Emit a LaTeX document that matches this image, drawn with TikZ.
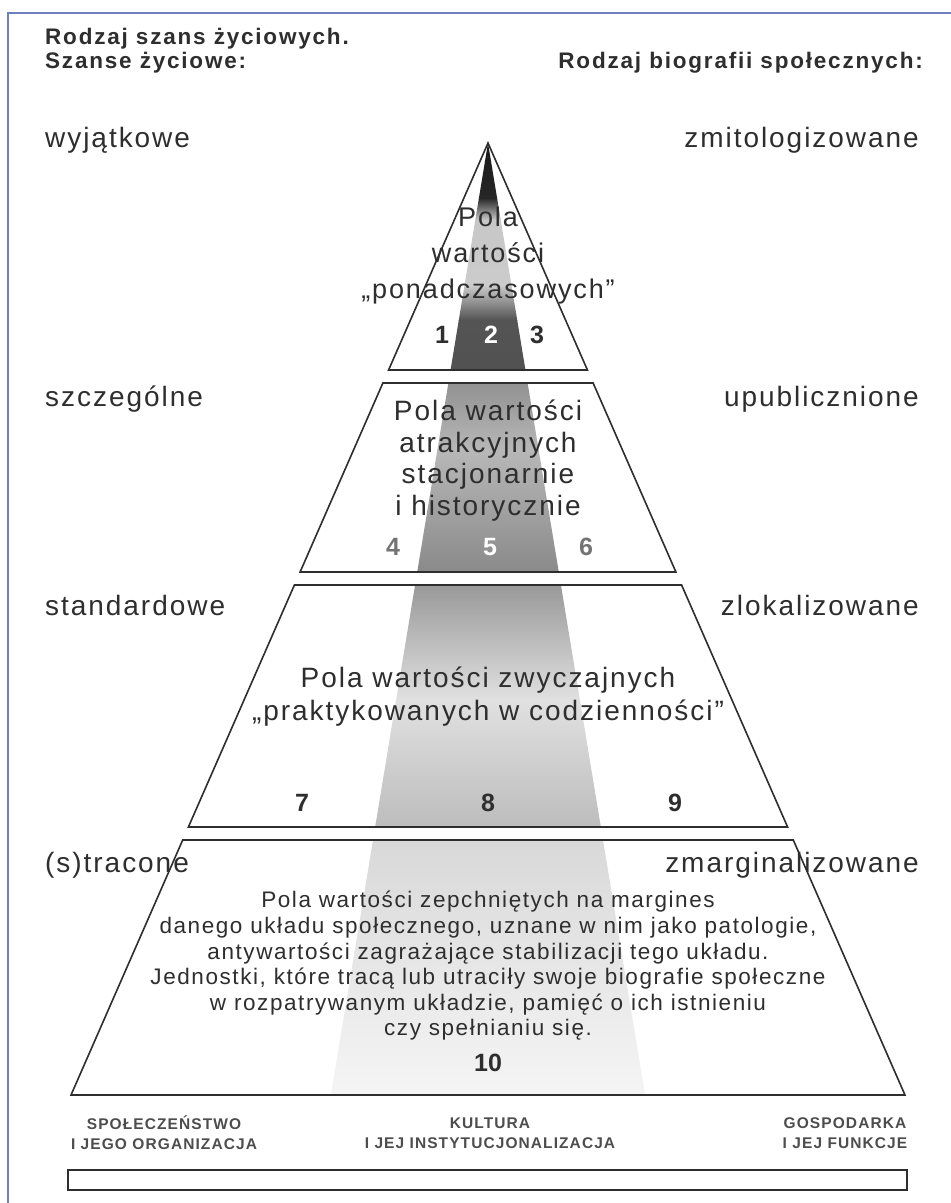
\documentclass[tikz,border=0pt]{standalone}
\usepackage{fontspec}
\setmainfont{Liberation Sans}
\newfontfamily\labelfont[LetterSpace=7]{Liberation Sans}
\newfontfamily\headfont[LetterSpace=8]{Liberation Sans}
\usetikzlibrary{positioning, calc}

\definecolor{ink}{gray}{0.18}
\definecolor{framec}{RGB}{112,128,190}

\begin{document}
\begin{tikzpicture}[
    x=1pt, y=-1pt,
    declare function={hw(\t)=0.438*(\t-143);},
    tier/.style={draw=ink, line width=1.6pt, line join=miter},
    headline/.style={font=\headfont\bfseries\fontsize{22.5}{24}\selectfont, text=ink, inner sep=0pt},
    sidelabel/.style={font=\labelfont\fontsize{28}{30}\selectfont, text=ink, inner sep=0pt,
        text height=20pt, text depth=6pt},
    fieldtext/.style={text=ink, align=center, inner sep=0pt},
    num/.style={font=\bfseries\fontsize{25}{25}\selectfont, text=ink, inner sep=0pt},
    sector/.style={font=\labelfont\bfseries\fontsize{15.5}{20}\selectfont, text=ink!85, align=center, inner sep=0pt}
]
    \useasboundingbox (0,0) rectangle (951,1203);
    \fill[white] (0,0) rectangle (951,1203);
    \draw[framec, line width=1.5pt] (8,1203) -- (8,13) -- (951,13);

    % shaded band down the middle of the pyramid
    \begin{scope}
        \clip (488,143) -- ({488+0.165*952},1095) -- ({488-0.165*952},1095) -- cycle;
        \foreach \ya/\yb/\ca/\cb in {143/198/black!90/black!85, 198/220/black!85/black!22,
            220/285/black!22/black!20, 285/320/black!20/black!67, 320/370/black!67/black!68,
            383/450/black!43/black!28, 450/572/black!28/black!46,
            585/700/black!40/black!12, 700/827/black!12/black!26,
            840/1095/black!15/black!4}
            \shade[top color=\ca, bottom color=\cb] (300,\ya) rectangle (680,\yb);
    \end{scope}

    % four tiers of one triangle
    \draw[tier] (488,143) -- ({488+hw(370)},370) -- ({488-hw(370)},370) -- cycle;
    \foreach \ya/\yb in {383/572, 585/827, 840/1095}
        \draw[tier] ({488-hw(\ya)},\ya) -- ({488+hw(\ya)},\ya)
            -- ({488+hw(\yb)},\yb) -- ({488-hw(\yb)},\yb) -- cycle;

    % headings
    \node[headline, anchor=west] (kind) at (45,39) {Rodzaj szans życiowych.};
    \node[headline, anchor=west] (chances) at (45,63) {Szanse życiowe:};
    \node[headline, anchor=east] (biographies) at (923,63) {Rodzaj biografii społecznych:};

    % labels beside each tier
    \foreach \y/\l/\r [count=\i] in {140/wyjątkowe/zmitologizowane, 399/szczególne/upublicznione,
        608/standardowe/zlokalizowane, 865/{(s)tracone}/zmarginalizowane} {
        \node[sidelabel, anchor=west] (chance\i) at (45,\y) {\l};
        \node[sidelabel, anchor=east] (bio\i) at (919,\y) {\r};
    }

    % texts inside the tiers
    \node[fieldtext, font=\labelfont\fontsize{27}{36}\selectfont] (field1) at (488,256)
        {Pola\\wartości\\„ponadczasowych”};
    \node[fieldtext, font=\labelfont\fontsize{28}{31.7}\selectfont] (field2) at (488,460.5)
        {Pola wartości\\atrakcyjnych\\stacjonarnie\\i historycznie};
    \node[fieldtext, font=\labelfont\fontsize{28}{33}\selectfont] (field3) at (488,696.5)
        {Pola wartości zwyczajnych\\„praktykowanych w codzienności”};
    \node[fieldtext, font=\labelfont\fontsize{22.5}{25.6}\selectfont] (field4) at (488,966)
        {Pola wartości zepchniętych na margines\\
         danego układu społecznego, uznane w nim jako patologie,\\
         antywartości zagrażające stabilizacji tego układu.\\
         Jednostki, które tracą lub utraciły swoje biografie społeczne\\
         w rozpatrywanym układzie, pamięć o ich istnieniu\\
         czy spełnianiu się.};

    % numbers of the fields
    \node[num] (n1) at (442,335) {1};
    \node[num, text=white] (n2) at (491,335) {2};
    \node[num] (n3) at (537,335) {3};
    \node[num, text=black!55] (n4) at (393,547) {4};
    \node[num, text=white] (n5) at (490,547) {5};
    \node[num, text=black!55] (n6) at (586,547) {6};
    \node[num] (n7) at (302,803) {7};
    \node[num] (n8) at (488,803) {8};
    \node[num] (n9) at (675,803) {9};
    \node[num] (n10) at (488,1063) {10};

    % bottom row
    \node[sector] (society) at (164,1133) {SPOŁECZEŃSTWO\\I JEGO ORGANIZACJA};
    \node[sector] (culture) at (490,1133) {KULTURA\\I JEJ INSTYTUCJONALIZACJA};
    \node[sector] (economy) at (845,1133) {GOSPODARKA\\I JEJ FUNKCJE};
    \draw[ink, line width=2.2pt] (68,1170) rectangle (907,1190);
\end{tikzpicture}
\end{document}
